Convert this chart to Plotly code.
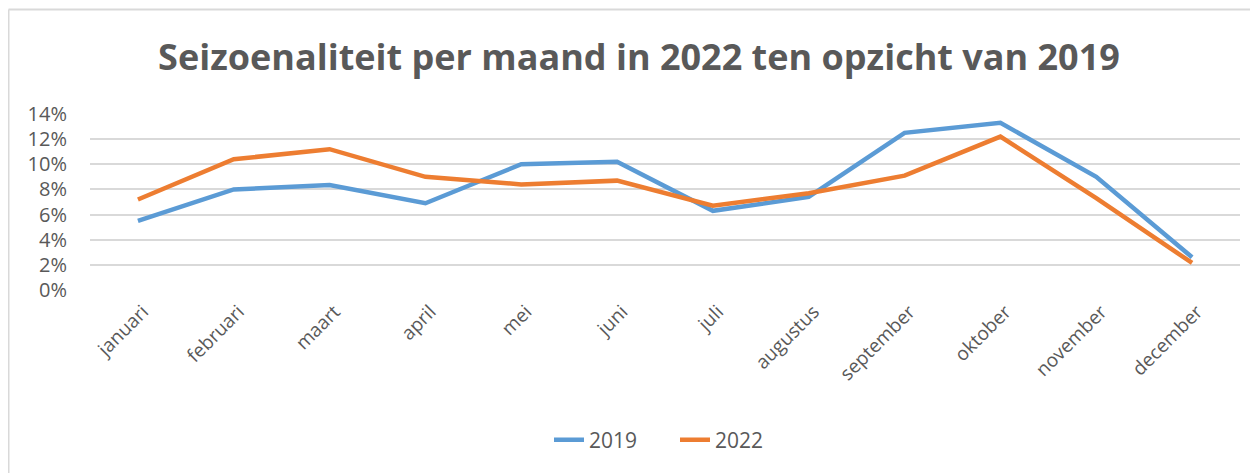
import plotly.graph_objects as go

months = ["januari", "februari", "maart", "april", "mei", "juni", "juli",
          "augustus", "september", "oktober", "november", "december"]
y2019 = [0.055, 0.080, 0.0835, 0.069, 0.100, 0.102, 0.063, 0.074, 0.125, 0.133, 0.090, 0.026]
y2022 = [0.072, 0.104, 0.112, 0.090, 0.084, 0.087, 0.067, 0.077, 0.091, 0.122, 0.073, 0.0215]
yticks = [0, 0.02, 0.04, 0.06, 0.08, 0.10, 0.12, 0.14]

# page body has an 8px margin; figure coordinates = page coordinates - 8
O = 8
W, H = 1258 - O, 473 - O
L = 90 - O
R = W - (1240 - O)
T = 114 - O
B = H - (290 - O)
pw, ph = W - L - R, H - T - B

def px(x):  # page px -> paper x
    return (x - O - L) / pw

def py(y):  # page px -> paper y
    return (H - B - (y - O)) / ph

fig = go.Figure()
fig.add_trace(go.Scatter(x=months, y=y2019, mode="lines", name="2019",
                         line=dict(color="#5B9BD5", width=4.5)))
fig.add_trace(go.Scatter(x=months, y=y2022, mode="lines", name="2022",
                         line=dict(color="#ED7D31", width=4.5)))

fig.update_layout(
    width=W, height=H, autosize=False,
    margin=dict(l=L, r=R, t=T, b=B),
    paper_bgcolor="white", plot_bgcolor="white",
    font=dict(family="Open Sans", color="#595959"),
    title=dict(text="<b>Seizoenaliteit per maand in 2022 ten opzicht van 2019</b>",
               x=(639 - O) / W, xref="container", xanchor="center",
               y=1 - (57 - O) / H, yref="container", yanchor="middle",
               font=dict(size=36, color="#595959", family="Open Sans")),
    legend=dict(orientation="h", x=px(675), xanchor="center", y=py(440), yanchor="middle",
                entrywidth=81, entrywidthmode="pixels",
                font=dict(size=21, color="#595959")),
    showlegend=True,
    xaxis=dict(showgrid=False, showline=False, ticks="", tickangle=-45,
               tickfont=dict(size=19, color="#595959"), range=[-0.5, 11.5],
               ticklabelstandoff=6, ticklabelshift=5),
    yaxis=dict(range=[0, 0.14], tickvals=yticks, tickformat=".0%",
               showgrid=True, gridcolor="#D9D9D9", gridwidth=1.5,
               zeroline=False, showline=False, ticks="",
               tickfont=dict(size=20, color="#595959"), ticklabelstandoff=22),
    shapes=[
        dict(type="line", xref="paper", yref="paper", x0=px(8.5), x1=px(8.5),
             y0=py(9.5), y1=py(480), line=dict(color="#D9D9D9", width=2)),
        dict(type="line", xref="paper", yref="paper", x0=px(8.5), x1=px(1265),
             y0=py(9.5), y1=py(9.5), line=dict(color="#D9D9D9", width=2)),
    ],
)

fig.write_html("out.html")
